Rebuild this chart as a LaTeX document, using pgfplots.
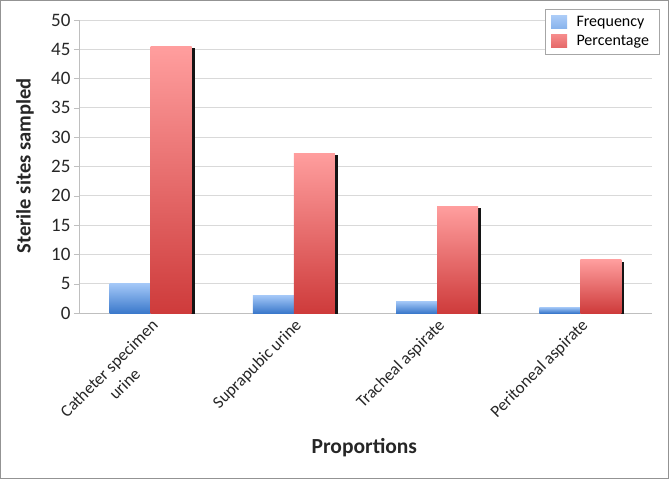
\documentclass[border=0pt]{standalone}
\usepackage{pgfplots}
\pgfplotsset{compat=1.18}
\usepackage{fontspec}
\setmainfont{Carlito}
\definecolor{gridc}{HTML}{D9D9D9}
\definecolor{axc}{HTML}{BFBFBF}
\definecolor{btop}{HTML}{A3C7F7}
\definecolor{bbot}{HTML}{3B79CB}
\definecolor{rtop}{HTML}{FF9E9E}
\definecolor{rbot}{HTML}{CE3B3B}
\definecolor{txt}{HTML}{262626}
\pgfplotsset{
  fbar/.style={draw=none, top color=btop, bottom color=bbot, bar shift=-20.5pt, forget plot},
  pbar/.style={draw=none, top color=rtop, bottom color=rbot, bar shift=20.5pt, forget plot},
  sbar/.style={draw=none, fill=black!92, bar shift=23.5pt, yshift=-2pt, forget plot},
}
\begin{document}
\begin{tikzpicture}
\useasboundingbox (-79pt,-166pt) rectangle (590pt,313pt);
\draw[color=gray!85, line width=1.4pt] (-78.3pt,-165.3pt) rectangle (589.3pt,312.3pt);
\begin{axis}[
  at={(0pt,0pt)}, anchor=south west,
  scale only axis,
  width=573pt, height=293pt,
  xmin=-0.5, xmax=3.5,
  ymin=0, ymax=50,
  ytick={0,5,...,50},
  xtick={0,1,2,3},
  xticklabels={{Catheter specimen\\urine},{Suprapubic urine},{Tracheal aspirate},{Peritoneal aspirate}},
  major tick length=5pt,
  extra x ticks={-0.5,0.5,1.5,2.5,3.5},
  extra x tick labels={},
  extra x tick style={xmajorgrids=false, tick style={draw=axc}},
  x tick style={draw=none},
  y tick style={draw=axc},
  tick align=outside,
  axis lines*=left,
  axis line style={color=axc, line width=0.8pt},
  ymajorgrids,
  grid style={color=gridc, line width=0.8pt},
  /pgf/number format/assume math mode=true,
  yticklabel style={font=\fontsize{19}{20}\selectfont, color=txt},
  xticklabel shift=-3pt,
  xticklabel style={font=\fontsize{17}{22}\selectfont, color=txt, rotate=45, anchor=north east, align=center, inner sep=2pt},
  ylabel={Sterile sites sampled},
  xlabel={Proportions},
  ylabel style={at={(axis description cs:-0.0942,0.502)}, anchor=center, rotate=0, font=\bfseries\fontsize{20.5}{22}\selectfont, color=txt},
  xlabel style={at={(axis description cs:0.498,-0.461)}, anchor=center, font=\bfseries\fontsize{21.5}{22}\selectfont, color=txt},
  ybar=0pt,
  bar width=41pt,
  legend style={at={(axis description cs:1.0135,1.0375)}, anchor=north east, draw=gray!70, line width=0.6pt, font=\fontsize{16}{18}\selectfont, nodes={font=\fontsize{16}{18}\selectfont, inner xsep=4.5pt, inner ysep=1.5pt}, row sep=5pt, inner xsep=6pt, inner ysep=5pt},
  legend cell align=left,
  legend image code/.code={\path[#1] (0pt,-6.5pt) rectangle (16pt,6.5pt); \path (0pt,0pt) -- (21pt,0pt);},
]
% Frequency
\addplot[fbar] coordinates {(0,5)};
\addplot[fbar] coordinates {(1,3)};
\addplot[fbar] coordinates {(2,2)};
\addplot[fbar] coordinates {(3,1)};
% Percentage shadows
\addplot[sbar] coordinates {(0,45.5)};
\addplot[sbar] coordinates {(1,27.3)};
\addplot[sbar] coordinates {(2,18.2)};
\addplot[sbar] coordinates {(3,9.1)};
% Percentage
\addplot[pbar] coordinates {(0,45.5)};
\addplot[pbar] coordinates {(1,27.3)};
\addplot[pbar] coordinates {(2,18.2)};
\addplot[pbar] coordinates {(3,9.1)};
\addlegendimage{draw=none, top color=btop!90!white, bottom color=btop!75!bbot}
\addlegendentry{Frequency}
\addlegendimage{draw=none, top color=rtop!80!rbot, bottom color=rtop!45!rbot}
\addlegendentry{Percentage}
\end{axis}
\end{tikzpicture}
\end{document}
